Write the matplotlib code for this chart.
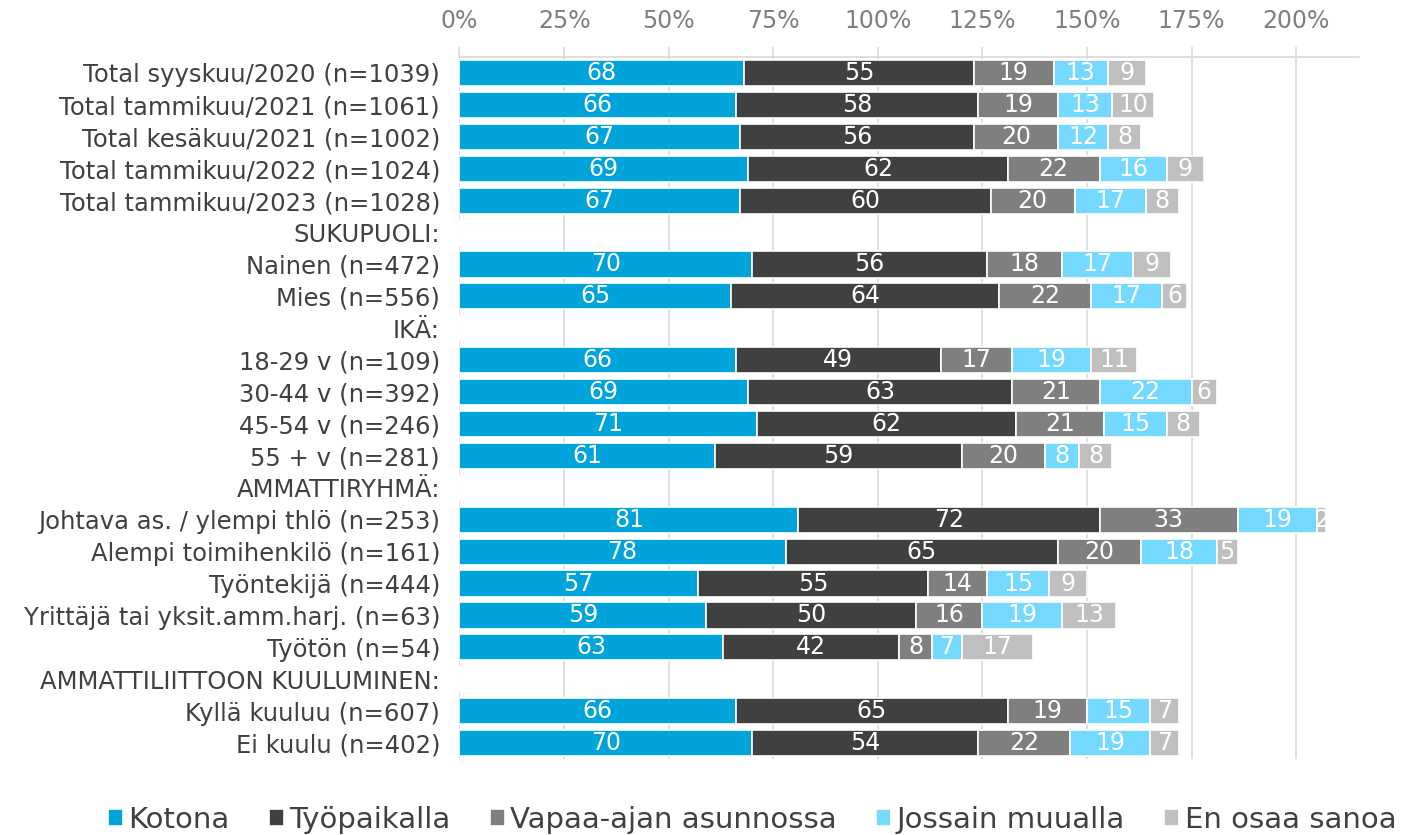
import matplotlib.pyplot as plt
import numpy as np

rows = [
    "Total syyskuu/2020 (n=1039)",
    "Total tammikuu/2021 (n=1061)",
    "Total kesäkuu/2021 (n=1002)",
    "Total tammikuu/2022 (n=1024)",
    "Total tammikuu/2023 (n=1028)",
    "SUKUPUOLI:",
    "Nainen (n=472)",
    "Mies (n=556)",
    "IKÄ:",
    "18-29 v (n=109)",
    "30-44 v (n=392)",
    "45-54 v (n=246)",
    "55 + v (n=281)",
    "AMMATTIRYHMÄ:",
    "Johtava as. / ylempi thlö (n=253)",
    "Alempi toimihenkilö (n=161)",
    "Työntekijä (n=444)",
    "Yrittäjä tai yksit.amm.harj. (n=63)",
    "Työtön (n=54)",
    "AMMATTILIITTOON KUULUMINEN:",
    "Kyllä kuuluu (n=607)",
    "Ei kuulu (n=402)",
]

# None marks a group heading row (no bar)
kotona = [68, 66, 67, 69, 67, None, 70, 65, None, 66, 69, 71, 61, None, 81, 78, 57, 59, 63, None, 66, 70]
tyopaikalla = [55, 58, 56, 62, 60, None, 56, 64, None, 49, 63, 62, 59, None, 72, 65, 55, 50, 42, None, 65, 54]
vapaa_ajan = [19, 19, 20, 22, 20, None, 18, 22, None, 17, 21, 21, 20, None, 33, 20, 14, 16, 8, None, 19, 22]
jossain = [13, 13, 12, 16, 17, None, 17, 17, None, 19, 22, 15, 8, None, 19, 18, 15, 19, 7, None, 15, 19]
en_osaa = [9, 10, 8, 9, 8, None, 9, 6, None, 11, 6, 8, 8, None, 2, 5, 9, 13, 17, None, 7, 7]

series = ["Kotona", "Työpaikalla", "Vapaa-ajan asunnossa", "Jossain muualla", "En osaa sanoa"]
values = [kotona, tyopaikalla, vapaa_ajan, jossain, en_osaa]
colors = ["#00A3DA", "#404040", "#7F7F7F", "#75D8FF", "#BFBFBF"]

fig = plt.figure(figsize=(14.06, 8.35), dpi=100)
ax = fig.add_axes([0.3268, 0.091, 0.6398, 0.8407])

y = np.arange(len(rows))
left = np.zeros(len(rows))
for name, vals, col in zip(series, values, colors):
    v = np.array([np.nan if a is None else a for a in vals], dtype=float)
    bars = ax.barh(y, np.nan_to_num(v), left=left, height=0.82, color=col,
                   edgecolor="white", linewidth=1.2, label=name, zorder=3)
    for rect, val, l in zip(bars, v, left):
        if np.isnan(val):
            continue
        t = ax.text(l + val / 2, rect.get_y() + rect.get_height() / 2, f"{int(val)}",
                    ha="center", va="center", color="white", fontsize=17, zorder=4)
        t.set_clip_path(rect)
    left += np.nan_to_num(v)

ax.set_xlim(0, 215)
ax.set_ylim(len(rows) - 0.5, -0.5)
ax.set_xticks(np.arange(0, 201, 25))
ax.set_xticklabels([f"{t}%" for t in range(0, 201, 25)])
ax.xaxis.tick_top()
ax.tick_params(axis="x", colors="#D9D9D9", labelcolor="#7F7F7F", labelsize=17,
               length=7, width=1.2, pad=10)
ax.set_yticks(y)
ax.set_yticklabels(rows, fontsize=17.5, color="#404040")
ax.tick_params(axis="y", length=0, pad=14)
ax.grid(axis="x", color="#D9D9D9", linewidth=1.2, zorder=0)
for side in ["bottom", "left", "right"]:
    ax.spines[side].set_visible(False)
ax.spines["top"].set_color("#D9D9D9")
ax.spines["top"].set_linewidth(1.2)

fig.legend(loc="center", bbox_to_anchor=(0.535, 0.018), ncol=5, frameon=False,
           fontsize=21, handlelength=0.5, handleheight=0.55, handletextpad=0.2,
           columnspacing=1.35, labelcolor="#404040")

fig.savefig("out.png", dpi=100)
